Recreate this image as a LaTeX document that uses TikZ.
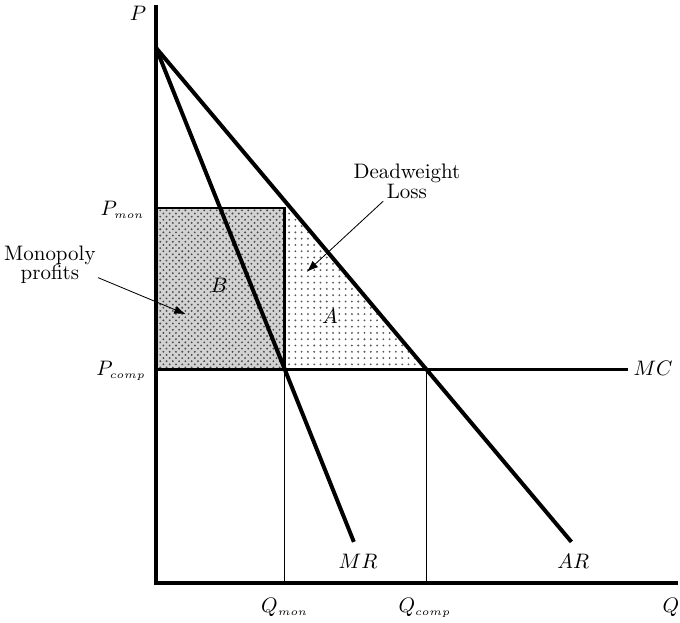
\documentclass[tikz,border=0pt]{standalone}
\usepackage{amsmath}
\usepackage{xcolor}
\usepackage{tikz}
\usetikzlibrary{arrows.meta, patterns}

\begin{document}
\begin{tikzpicture}[
    axis/.style={line width=1.8pt},
    curve/.style={line width=1.9pt},
    guide/.style={line width=0.4pt},
    note/.style={-{Latex[length=5.5pt,width=4pt]}, line width=0.4pt},
    lbl/.style={anchor=base, inner sep=1pt}]
  \useasboundingbox (-2.617,-0.654) rectangle (8.792,9.782);

  \coordinate (O) at (0,0);
  \coordinate (Ptop) at (0,9.7);
  \coordinate (Qend) at (8.75,0);
  \coordinate (top) at (0,8.98);
  \coordinate (pm) at (0,6.29);
  \coordinate (pc) at (0,3.59);
  \coordinate (qm) at (2.16,3.59);
  \coordinate (rm) at (2.16,6.29);
  \coordinate (qc) at (4.53,3.59);
  \coordinate (atop) at (2.16,6.41);
  \coordinate (mrend) at (3.32,0.69);
  \coordinate (arend) at (6.97,0.69);
  \coordinate (mcend) at (7.92,3.59);

  % shaded areas
  \fill[gray!35] (pc) rectangle (rm);
  \fill[pattern=crosshatch dots, pattern color=gray!60!black] (pc) rectangle (rm);
  \fill[pattern=dots, pattern color=gray!70!black] (atop) -- (qm) -- (qc) -- cycle;

  % guides down to the Q axis
  \draw[guide] (qm) -- (qm |- O);
  \draw[guide] (qc) -- (qc |- O);

  % monopoly box and MC
  \draw[line width=1.2pt] (pm) -- (rm) -- (qm);
  \draw[line width=1.4pt] (pc) -- (mcend);

  % axes and revenue curves
  \draw[axis] (Ptop) -- (O) -- (Qend);
  \draw[curve] (top) -- (mrend);
  \draw[curve] (top) -- (arend);

  % labels
  \node (Plab) at (-0.30,9.55) {$P$};
  \node[anchor=base east, inner sep=1pt] (pmlab) at (-0.15,6.17) {$P_{\scriptscriptstyle mon}$};
  \node[anchor=base east, inner sep=1pt] (pclab) at (-0.13,3.49) {$P_{\scriptscriptstyle comp}$};
  \node[lbl] (qmlab) at (2.16,-0.49) {$Q_{\scriptscriptstyle mon}$};
  \node[lbl] (qclab) at (4.51,-0.49) {$Q_{\scriptscriptstyle comp}$};
  \node[lbl] (Qlab) at (8.64,-0.49) {$Q$};
  \node[lbl] (mrlab) at (3.39,0.25) {$MR$};
  \node[lbl] (arlab) at (7.00,0.25) {$AR$};
  \node[lbl] (mclab) at (8.34,3.49) {$MC$};
  \node[lbl] (Alab) at (2.92,4.36) {$A$};
  \node[lbl] (Blab) at (1.06,4.87) {$B$};

  \node[align=center, inner sep=1pt] (mp) at (-1.78,5.34) {Monopoly\\[-2.5pt]profits};
  \node[align=center, inner sep=1pt] (dwl) at (4.21,6.74) {Deadweight\\[-2.5pt]Loss};
  \coordinate (mptip) at (0.50,4.51);
  \coordinate (dwltip) at (2.53,5.22);

  \draw[note] (mp.345) -- (mptip);
  \draw[note] (dwl.220) -- (dwltip);
\end{tikzpicture}
\end{document}
